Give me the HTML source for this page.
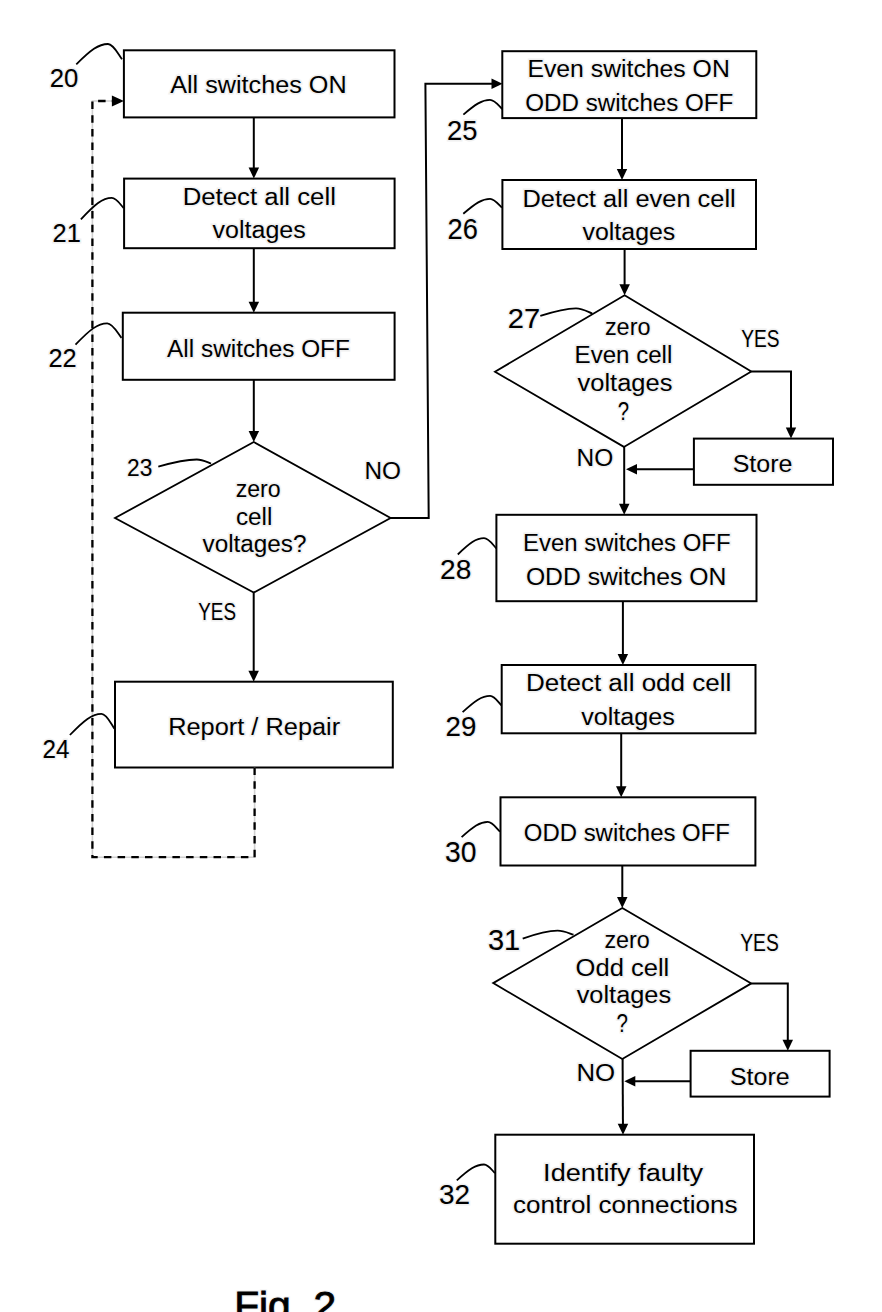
<!DOCTYPE html>
<html><head><meta charset="utf-8"><style>
html,body{margin:0;padding:0;background:#fff;}
svg{display:block;}
text{font-family:"Liberation Sans",sans-serif;fill:#000;}
.lbl{stroke:#000;stroke-width:0.1px;}
.fig{stroke:#000;stroke-width:0.8px;}
.halo text{fill:#f0f0f0;stroke:#f0f0f0;stroke-width:3px;}
</style></head><body>
<svg width="882" height="1312" viewBox="0 0 882 1312">
<g class="halo"><text x="170.2" y="93.3" font-size="23.5" textLength="176.5" lengthAdjust="spacingAndGlyphs">All switches ON</text>
<text x="182.7" y="205" font-size="23.5" textLength="153.2" lengthAdjust="spacingAndGlyphs">Detect all cell</text>
<text x="212.6" y="238" font-size="23.5" textLength="93.2" lengthAdjust="spacingAndGlyphs">voltages</text>
<text x="167.1" y="356.9" font-size="23.5" textLength="182.8" lengthAdjust="spacingAndGlyphs">All switches OFF</text>
<text x="235.7" y="497.3" font-size="23.5" textLength="45.0" lengthAdjust="spacingAndGlyphs">zero</text>
<text x="235.9" y="524.5" font-size="23.5" textLength="36.4" lengthAdjust="spacingAndGlyphs">cell</text>
<text x="202.5" y="551.8" font-size="23.5" textLength="104.0" lengthAdjust="spacingAndGlyphs">voltages?</text>
<text x="364.5" y="479.4" font-size="24.44" textLength="36.5" lengthAdjust="spacingAndGlyphs">NO</text>
<text x="198.3" y="619.5" font-size="24.44" textLength="37.7" lengthAdjust="spacingAndGlyphs">YES</text>
<text x="168.2" y="734.9" font-size="23.5" textLength="172.0" lengthAdjust="spacingAndGlyphs">Report / Repair</text>
<text x="527.4" y="77.4" font-size="23.5" textLength="202.4" lengthAdjust="spacingAndGlyphs">Even switches ON</text>
<text x="525.3" y="110.5" font-size="23.5" textLength="208.1" lengthAdjust="spacingAndGlyphs">ODD switches OFF</text>
<text x="522.5" y="206.9" font-size="23.5" textLength="213.2" lengthAdjust="spacingAndGlyphs">Detect all even cell</text>
<text x="582.5" y="240.2" font-size="23.5" textLength="92.8" lengthAdjust="spacingAndGlyphs">voltages</text>
<text x="604.9" y="335" font-size="23.5" textLength="45.6" lengthAdjust="spacingAndGlyphs">zero</text>
<text x="574.6" y="363" font-size="23.5" textLength="97.7" lengthAdjust="spacingAndGlyphs">Even cell</text>
<text x="577.5" y="390.6" font-size="23.5" textLength="94.9" lengthAdjust="spacingAndGlyphs">voltages</text>
<text x="617.8" y="419.5" font-size="26.32" textLength="11.3" lengthAdjust="spacingAndGlyphs">?</text>
<text x="741.2" y="347.2" font-size="24.44" textLength="38.3" lengthAdjust="spacingAndGlyphs">YES</text>
<text x="732.7" y="472.3" font-size="23.5" textLength="59.8" lengthAdjust="spacingAndGlyphs">Store</text>
<text x="576.5" y="465.8" font-size="24.44" textLength="36.7" lengthAdjust="spacingAndGlyphs">NO</text>
<text x="523.0" y="551.3" font-size="23.5" textLength="207.6" lengthAdjust="spacingAndGlyphs">Even switches OFF</text>
<text x="525.9" y="584.9" font-size="23.5" textLength="200.4" lengthAdjust="spacingAndGlyphs">ODD switches ON</text>
<text x="525.9" y="691" font-size="23.5" textLength="205.5" lengthAdjust="spacingAndGlyphs">Detect all odd cell</text>
<text x="581.2" y="724.5" font-size="23.5" textLength="93.5" lengthAdjust="spacingAndGlyphs">voltages</text>
<text x="523.8" y="841.2" font-size="23.5" textLength="206.2" lengthAdjust="spacingAndGlyphs">ODD switches OFF</text>
<text x="604.4" y="947.8" font-size="23.5" textLength="45.4" lengthAdjust="spacingAndGlyphs">zero</text>
<text x="575.6" y="975.6" font-size="23.5" textLength="93.7" lengthAdjust="spacingAndGlyphs">Odd cell</text>
<text x="576.7" y="1002.5" font-size="23.5" textLength="94.4" lengthAdjust="spacingAndGlyphs">voltages</text>
<text x="616.4" y="1031.8" font-size="25.38" textLength="11.4" lengthAdjust="spacingAndGlyphs">?</text>
<text x="740.2" y="951.2" font-size="24.44" textLength="38.6" lengthAdjust="spacingAndGlyphs">YES</text>
<text x="729.9" y="1085" font-size="23.5" textLength="59.7" lengthAdjust="spacingAndGlyphs">Store</text>
<text x="576.4" y="1080.5" font-size="24.44" textLength="38.7" lengthAdjust="spacingAndGlyphs">NO</text>
<text x="543.1" y="1181.2" font-size="23.5" textLength="160.0" lengthAdjust="spacingAndGlyphs">Identify faulty</text>
<text x="513.1" y="1213" font-size="23.5" textLength="224.4" lengthAdjust="spacingAndGlyphs">control connections</text>
<text x="49.8" y="86.5" font-size="25" textLength="28.6" lengthAdjust="spacingAndGlyphs">20</text>
<text x="52.6" y="241.6" font-size="25" textLength="28.3" lengthAdjust="spacingAndGlyphs">21</text>
<text x="48.4" y="366.6" font-size="25" textLength="28.2" lengthAdjust="spacingAndGlyphs">22</text>
<text x="127.0" y="476.3" font-size="24.3" textLength="25.3" lengthAdjust="spacingAndGlyphs">23</text>
<text x="42.6" y="757.8" font-size="26" textLength="26.9" lengthAdjust="spacingAndGlyphs">24</text>
<text x="446.9" y="140" font-size="28" textLength="30.5" lengthAdjust="spacingAndGlyphs">25</text>
<text x="447.5" y="239" font-size="29" textLength="30.3" lengthAdjust="spacingAndGlyphs">26</text>
<text x="507.8" y="327.6" font-size="27.7" textLength="32.4" lengthAdjust="spacingAndGlyphs">27</text>
<text x="440.1" y="578.6" font-size="27.7" textLength="31.3" lengthAdjust="spacingAndGlyphs">28</text>
<text x="445.6" y="736" font-size="28.4" textLength="30.8" lengthAdjust="spacingAndGlyphs">29</text>
<text x="445.1" y="862" font-size="28.7" textLength="31.5" lengthAdjust="spacingAndGlyphs">30</text>
<text x="487.9" y="949.6" font-size="29.5" textLength="32.3" lengthAdjust="spacingAndGlyphs">31</text>
<text x="439.0" y="1204.4" font-size="28" textLength="31.1" lengthAdjust="spacingAndGlyphs">32</text>
<text x="234.2" y="1319" font-size="38" textLength="101.9" lengthAdjust="spacingAndGlyphs">Fig. 2</text></g>
<rect x="123.9" y="50.3" width="270.6" height="67.1" fill="none" stroke="#000" stroke-width="2.0"/>
<rect x="124.1" y="178.6" width="270.5" height="69.6" fill="none" stroke="#000" stroke-width="2.0"/>
<rect x="122.8" y="312.7" width="271.8" height="67.1" fill="none" stroke="#000" stroke-width="2.0"/>
<rect x="115.0" y="681.7" width="277.8" height="85.8" fill="none" stroke="#000" stroke-width="2.0"/>
<rect x="502.3" y="51.2" width="254.0" height="66.9" fill="none" stroke="#000" stroke-width="2.0"/>
<rect x="502.4" y="180.0" width="253.6" height="69.0" fill="none" stroke="#000" stroke-width="2.0"/>
<rect x="496.4" y="514.8" width="260.1" height="86.4" fill="none" stroke="#000" stroke-width="2.0"/>
<rect x="501.7" y="665.0" width="253.8" height="68.3" fill="none" stroke="#000" stroke-width="2.0"/>
<rect x="500.5" y="797.3" width="254.9" height="68.2" fill="none" stroke="#000" stroke-width="2.0"/>
<rect x="495.3" y="1134.7" width="258.7" height="109.0" fill="none" stroke="#000" stroke-width="2.0"/>
<rect x="693.9" y="438.6" width="139.1" height="46.2" fill="none" stroke="#000" stroke-width="2.0"/>
<rect x="690.6" y="1050.8" width="139.0" height="45.8" fill="none" stroke="#000" stroke-width="2.0"/>
<polygon points="253.8,442 390.6,518 253.7,592.6 115,518" fill="none" stroke="#000" stroke-width="1.8"/>
<polygon points="624.6,295.3 751.3,371.5 623.9,446.9 495,371.7" fill="none" stroke="#000" stroke-width="1.8"/>
<polygon points="622.3,908 751.3,983.4 622.3,1059 493.2,983.1" fill="none" stroke="#000" stroke-width="1.8"/>
<polyline points="253.8,117.4 253.8,172.6" fill="none" stroke="#000" stroke-width="2.0"/>
<polygon points="253.8,178.6 248.6,167.6 259.1,167.6" fill="#000"/>
<polyline points="253.8,248.2 253.8,306.7" fill="none" stroke="#000" stroke-width="2.0"/>
<polygon points="253.8,312.7 248.6,301.7 259.1,301.7" fill="#000"/>
<polyline points="253.8,379.8 253.8,436.0" fill="none" stroke="#000" stroke-width="2.0"/>
<polygon points="253.8,442.0 248.6,431.0 259.1,431.0" fill="#000"/>
<polyline points="253.7,592.6 253.7,675.7" fill="none" stroke="#000" stroke-width="2.0"/>
<polygon points="253.7,681.7 248.4,670.7 258.9,670.7" fill="#000"/>
<polyline points="390.6,518 428.7,518 425.4,83.8 496.5,83.8" fill="none" stroke="#000" stroke-width="2.0"/>
<polygon points="502.5,83.8 491.5,89.0 491.5,78.5" fill="#000"/>
<polyline points="622,118.1 622.0,174.0" fill="none" stroke="#000" stroke-width="2.0"/>
<polygon points="622.0,180.0 616.8,169.0 627.2,169.0" fill="#000"/>
<polyline points="624.6,249 624.6,289.3" fill="none" stroke="#000" stroke-width="2.0"/>
<polygon points="624.6,295.3 619.4,284.3 629.9,284.3" fill="#000"/>
<polyline points="751.3,371.5 791,371.5 791.0,432.6" fill="none" stroke="#000" stroke-width="2.0"/>
<polygon points="791.0,438.6 785.8,427.6 796.2,427.6" fill="#000"/>
<polyline points="693.9,469.3 632.0,469.3" fill="none" stroke="#000" stroke-width="2.0"/>
<polygon points="626.0,469.3 637.0,464.1 637.0,474.6" fill="#000"/>
<polyline points="624.2,446.9 624.2,508.79999999999995" fill="none" stroke="#000" stroke-width="2.0"/>
<polygon points="624.2,514.8 619.0,503.8 629.5,503.8" fill="#000"/>
<polyline points="622.9,601.2 622.9,659.0" fill="none" stroke="#000" stroke-width="2.0"/>
<polygon points="622.9,665.0 617.6,654.0 628.1,654.0" fill="#000"/>
<polyline points="621.2,733.3 621.2,791.3" fill="none" stroke="#000" stroke-width="2.0"/>
<polygon points="621.2,797.3 616.0,786.3 626.5,786.3" fill="#000"/>
<polyline points="622.3,865.5 622.3,902.0" fill="none" stroke="#000" stroke-width="2.0"/>
<polygon points="622.3,908.0 617.0,897.0 627.5,897.0" fill="#000"/>
<polyline points="751.3,983.4 787.8,983.4 787.8,1044.8" fill="none" stroke="#000" stroke-width="2.0"/>
<polygon points="787.8,1050.8 782.5,1039.8 793.0,1039.8" fill="#000"/>
<polyline points="690.6,1081.2 630.3,1081.2" fill="none" stroke="#000" stroke-width="2.0"/>
<polygon points="624.3,1081.2 635.3,1076.0 635.3,1086.5" fill="#000"/>
<polyline points="622.6,1059 622.9682963474806,1128.7000837607166" fill="none" stroke="#000" stroke-width="2.0"/>
<polygon points="623.0,1134.7 617.7,1123.7 628.2,1123.7" fill="#000"/>
<polyline points="254.6,767.5 254.6,857.2 92.4,857.2 92.4,101 117.9,101" fill="none" stroke="#d0d0d0" stroke-width="1.6"/>
<polyline points="254.6,767.5 254.6,857.2 92.4,857.2 92.4,101 117.9,101" fill="none" stroke="#000" stroke-width="2.3" stroke-dasharray="7.5 6.2"/>
<polygon points="123.9,101.0 111.9,106.5 111.9,95.5" fill="#000"/>
<path d="M76.3,64.4 C90.6,50.1 98.5,44.0 108,44 C113.6,44.0 118.5,54.7 122,59.3" fill="none" stroke="#000" stroke-width="1.8"/>
<path d="M80.9,219.4 C94.8,204.3 102.5,197.9 111.8,197.9 C116.6,197.9 120.7,205.0 123.7,208.1" fill="none" stroke="#000" stroke-width="1.8"/>
<path d="M75.5,344.7 C89.8,329.7 97.7,323.3 107.2,323.3 C112.9,323.3 117.9,333.5 121.5,337.9" fill="none" stroke="#000" stroke-width="1.8"/>
<path d="M69.9,735 C84.1,720.2 92.0,713.9 101.5,713.9 C106.7,713.9 111.2,724.2 114.4,728.6" fill="none" stroke="#000" stroke-width="1.8"/>
<path d="M463.4,114.6 C475.4,104.3 482.0,99.9 490,99.9 C494.9,99.9 499.2,106.3 502.3,109" fill="none" stroke="#000" stroke-width="1.8"/>
<path d="M463.3,213.8 C475.4,203.3 482.1,198.8 490.1,198.8 C494.8,198.8 498.9,205.0 501.9,207.7" fill="none" stroke="#000" stroke-width="1.8"/>
<path d="M457.8,554.5 C469.6,543.1 476.1,538.2 484,538.2 C488.9,538.2 493.2,545.3 496.3,548.4" fill="none" stroke="#000" stroke-width="1.8"/>
<path d="M462.6,712.2 C475.0,700.8 481.9,695.9 490.1,695.9 C494.6,695.9 498.6,702.5 501.4,705.4" fill="none" stroke="#000" stroke-width="1.8"/>
<path d="M461.6,837.2 C473.4,826.5 479.9,821.9 487.8,821.9 C492.7,821.9 496.9,828.8 500,831.7" fill="none" stroke="#000" stroke-width="1.8"/>
<path d="M456.8,1180.4 C469.0,1169.3 475.8,1164.5 484,1164.5 C488.4,1164.5 492.2,1170.5 494.9,1173.1" fill="none" stroke="#000" stroke-width="1.8"/>
<path d="M158.3,466.7 C175.6,461.7 185.2,459.5 196.8,459.5 C202.5,459.5 207.5,462.3 211.1,463.5" fill="none" stroke="#000" stroke-width="1.8"/>
<path d="M540.3,315.9 C556.4,310.6 565.3,308.3 576,308.3 C582.5,308.3 588.2,311.9 592.3,313.5" fill="none" stroke="#000" stroke-width="1.8"/>
<path d="M522.7,938.7 C538.4,933.1 547.1,930.7 557.6,930.7 C564.0,930.7 569.5,933.5 573.5,934.7" fill="none" stroke="#000" stroke-width="1.8"/>
<text x="170.2" y="93.3" font-size="23.5" textLength="176.5" lengthAdjust="spacingAndGlyphs">All switches ON</text>
<text x="182.7" y="205" font-size="23.5" textLength="153.2" lengthAdjust="spacingAndGlyphs">Detect all cell</text>
<text x="212.6" y="238" font-size="23.5" textLength="93.2" lengthAdjust="spacingAndGlyphs">voltages</text>
<text x="167.1" y="356.9" font-size="23.5" textLength="182.8" lengthAdjust="spacingAndGlyphs">All switches OFF</text>
<text x="235.7" y="497.3" font-size="23.5" textLength="45.0" lengthAdjust="spacingAndGlyphs">zero</text>
<text x="235.9" y="524.5" font-size="23.5" textLength="36.4" lengthAdjust="spacingAndGlyphs">cell</text>
<text x="202.5" y="551.8" font-size="23.5" textLength="104.0" lengthAdjust="spacingAndGlyphs">voltages?</text>
<text x="364.5" y="479.4" font-size="24.44" textLength="36.5" lengthAdjust="spacingAndGlyphs">NO</text>
<text x="198.3" y="619.5" font-size="24.44" textLength="37.7" lengthAdjust="spacingAndGlyphs">YES</text>
<text x="168.2" y="734.9" font-size="23.5" textLength="172.0" lengthAdjust="spacingAndGlyphs">Report / Repair</text>
<text x="527.4" y="77.4" font-size="23.5" textLength="202.4" lengthAdjust="spacingAndGlyphs">Even switches ON</text>
<text x="525.3" y="110.5" font-size="23.5" textLength="208.1" lengthAdjust="spacingAndGlyphs">ODD switches OFF</text>
<text x="522.5" y="206.9" font-size="23.5" textLength="213.2" lengthAdjust="spacingAndGlyphs">Detect all even cell</text>
<text x="582.5" y="240.2" font-size="23.5" textLength="92.8" lengthAdjust="spacingAndGlyphs">voltages</text>
<text x="604.9" y="335" font-size="23.5" textLength="45.6" lengthAdjust="spacingAndGlyphs">zero</text>
<text x="574.6" y="363" font-size="23.5" textLength="97.7" lengthAdjust="spacingAndGlyphs">Even cell</text>
<text x="577.5" y="390.6" font-size="23.5" textLength="94.9" lengthAdjust="spacingAndGlyphs">voltages</text>
<text x="617.8" y="419.5" font-size="26.32" textLength="11.3" lengthAdjust="spacingAndGlyphs">?</text>
<text x="741.2" y="347.2" font-size="24.44" textLength="38.3" lengthAdjust="spacingAndGlyphs">YES</text>
<text x="732.7" y="472.3" font-size="23.5" textLength="59.8" lengthAdjust="spacingAndGlyphs">Store</text>
<text x="576.5" y="465.8" font-size="24.44" textLength="36.7" lengthAdjust="spacingAndGlyphs">NO</text>
<text x="523.0" y="551.3" font-size="23.5" textLength="207.6" lengthAdjust="spacingAndGlyphs">Even switches OFF</text>
<text x="525.9" y="584.9" font-size="23.5" textLength="200.4" lengthAdjust="spacingAndGlyphs">ODD switches ON</text>
<text x="525.9" y="691" font-size="23.5" textLength="205.5" lengthAdjust="spacingAndGlyphs">Detect all odd cell</text>
<text x="581.2" y="724.5" font-size="23.5" textLength="93.5" lengthAdjust="spacingAndGlyphs">voltages</text>
<text x="523.8" y="841.2" font-size="23.5" textLength="206.2" lengthAdjust="spacingAndGlyphs">ODD switches OFF</text>
<text x="604.4" y="947.8" font-size="23.5" textLength="45.4" lengthAdjust="spacingAndGlyphs">zero</text>
<text x="575.6" y="975.6" font-size="23.5" textLength="93.7" lengthAdjust="spacingAndGlyphs">Odd cell</text>
<text x="576.7" y="1002.5" font-size="23.5" textLength="94.4" lengthAdjust="spacingAndGlyphs">voltages</text>
<text x="616.4" y="1031.8" font-size="25.38" textLength="11.4" lengthAdjust="spacingAndGlyphs">?</text>
<text x="740.2" y="951.2" font-size="24.44" textLength="38.6" lengthAdjust="spacingAndGlyphs">YES</text>
<text x="729.9" y="1085" font-size="23.5" textLength="59.7" lengthAdjust="spacingAndGlyphs">Store</text>
<text x="576.4" y="1080.5" font-size="24.44" textLength="38.7" lengthAdjust="spacingAndGlyphs">NO</text>
<text x="543.1" y="1181.2" font-size="23.5" textLength="160.0" lengthAdjust="spacingAndGlyphs">Identify faulty</text>
<text x="513.1" y="1213" font-size="23.5" textLength="224.4" lengthAdjust="spacingAndGlyphs">control connections</text>
<text class="lbl" x="49.8" y="86.5" font-size="25" textLength="28.6" lengthAdjust="spacingAndGlyphs">20</text>
<text class="lbl" x="52.6" y="241.6" font-size="25" textLength="28.3" lengthAdjust="spacingAndGlyphs">21</text>
<text class="lbl" x="48.4" y="366.6" font-size="25" textLength="28.2" lengthAdjust="spacingAndGlyphs">22</text>
<text class="lbl" x="127.0" y="476.3" font-size="24.3" textLength="25.3" lengthAdjust="spacingAndGlyphs">23</text>
<text class="lbl" x="42.6" y="757.8" font-size="26" textLength="26.9" lengthAdjust="spacingAndGlyphs">24</text>
<text class="lbl" x="446.9" y="140" font-size="28" textLength="30.5" lengthAdjust="spacingAndGlyphs">25</text>
<text class="lbl" x="447.5" y="239" font-size="29" textLength="30.3" lengthAdjust="spacingAndGlyphs">26</text>
<text class="lbl" x="507.8" y="327.6" font-size="27.7" textLength="32.4" lengthAdjust="spacingAndGlyphs">27</text>
<text class="lbl" x="440.1" y="578.6" font-size="27.7" textLength="31.3" lengthAdjust="spacingAndGlyphs">28</text>
<text class="lbl" x="445.6" y="736" font-size="28.4" textLength="30.8" lengthAdjust="spacingAndGlyphs">29</text>
<text class="lbl" x="445.1" y="862" font-size="28.7" textLength="31.5" lengthAdjust="spacingAndGlyphs">30</text>
<text class="lbl" x="487.9" y="949.6" font-size="29.5" textLength="32.3" lengthAdjust="spacingAndGlyphs">31</text>
<text class="lbl" x="439.0" y="1204.4" font-size="28" textLength="31.1" lengthAdjust="spacingAndGlyphs">32</text>
<text class="fig" x="234.2" y="1319" font-size="38" textLength="101.9" lengthAdjust="spacingAndGlyphs">Fig. 2</text>
</svg>
</body></html>
